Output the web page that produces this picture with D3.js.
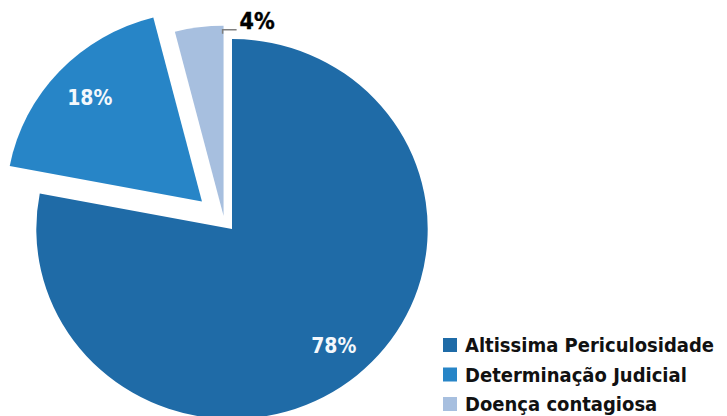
<!DOCTYPE html>
<html>
<head>
<meta charset="utf-8">
<script src="https://cdn.jsdelivr.net/npm/d3@7"></script>
<style>
  html, body { margin: 0; padding: 0; background: #ffffff; }
  svg { display: block; }
  .lbl { font-family: "DejaVu Sans Condensed", "DejaVu Sans", sans-serif; font-stretch: condensed; font-weight: bold; }
</style>
</head>
<body>
<svg id="chart" width="727" height="416"></svg>
<script>
// Reasons for the placement, share of cases
const categories = ["Altissima Periculosidade", "Determinação Judicial", "Doença contagiosa"];
const values = [78, 18, 4];
const colors = ["#1f6ba7", "#2785c7", "#a7bfdf"];

// Slice separation: distance and direction (degrees clockwise from 12 o'clock, null = slice middle)
const explodeDist = [0, 40, 15.5];
const explodeDir = [null, null, 328];

const svg = d3.select("#chart");
const cx = 232, cy = 229, R = 190, stretchX = 1.03;

const pie = d3.pie().sort(null).value(d => d)(values);
const arc = d3.arc().innerRadius(0).outerRadius(R);

const g = svg.append("g")
  .attr("transform", `translate(${cx},${cy}) scale(${stretchX},1)`);

function offsetOf(d, i) {
  const mid = (d.startAngle + d.endAngle) / 2;
  const a = explodeDir[i] == null ? mid : explodeDir[i] * Math.PI / 180;
  return [Math.sin(a) * explodeDist[i], -Math.cos(a) * explodeDist[i]];
}

const slices = g.selectAll("g.slice").data(pie).join("g")
  .attr("class", "slice")
  .attr("transform", (d, i) => { const o = offsetOf(d, i); return `translate(${o[0]},${o[1]})`; });

slices.append("path")
  .attr("d", arc)
  .attr("fill", (d, i) => colors[i]);

// Inside labels for the two large slices
const labelArc = d3.arc().innerRadius(152).outerRadius(152);
pie.forEach((d, i) => {
  if (i === 2) return;
  const o = offsetOf(d, i);
  const c = labelArc.centroid(d);
  svg.append("text")
    .attr("class", "lbl")
    .attr("x", cx + (c[0] + o[0]) * stretchX + 2)
    .attr("y", cy + c[1] + o[1])
    .attr("text-anchor", "middle")
    .attr("dominant-baseline", "central")
    .attr("font-size", 21)
    .attr("fill", "#f4f8fc")
    .text(values[i] + "%");
});

// Outside label with leader line for the small slice
{
  const i = 2, d = pie[i];
  const o = offsetOf(d, i);
  const a = d.endAngle - 0.005;
  const r0 = R - 8;
  const x0 = cx + (Math.sin(a) * r0 + o[0]) * stretchX;
  const y0 = cy - Math.cos(a) * r0 + o[1];
  const y1 = y0 - 4;
  const x2 = x0 + 14;
  svg.append("path")
    .attr("d", `M${x0},${y0}L${x0},${y1}L${x2},${y1}`)
    .attr("fill", "none")
    .attr("stroke", "#7f7f7f")
    .attr("stroke-width", 1.5);
  svg.append("text")
    .attr("class", "lbl")
    .attr("x", x2 + 3)
    .attr("y", y1 - 0.5)
    .attr("font-size", 23)
    .attr("stroke", "#000000")
    .attr("stroke-width", 0.4)
    .attr("fill", "#000000")
    .text(values[i] + "%");
}

// Legend
const legend = svg.append("g").attr("transform", "translate(443,338)");
const rowH = 29.5, box = 14;
const rows = legend.selectAll("g").data(categories).join("g")
  .attr("transform", (d, i) => `translate(0,${i * rowH})`);
rows.append("rect")
  .attr("width", box).attr("height", box)
  .attr("fill", (d, i) => colors[i]);
rows.append("text")
  .attr("class", "lbl")
  .attr("x", 22)
  .attr("y", box)
  .attr("font-size", 20)
  .attr("fill", "#111111")
  .text(d => d);
</script>
</body>
</html>
